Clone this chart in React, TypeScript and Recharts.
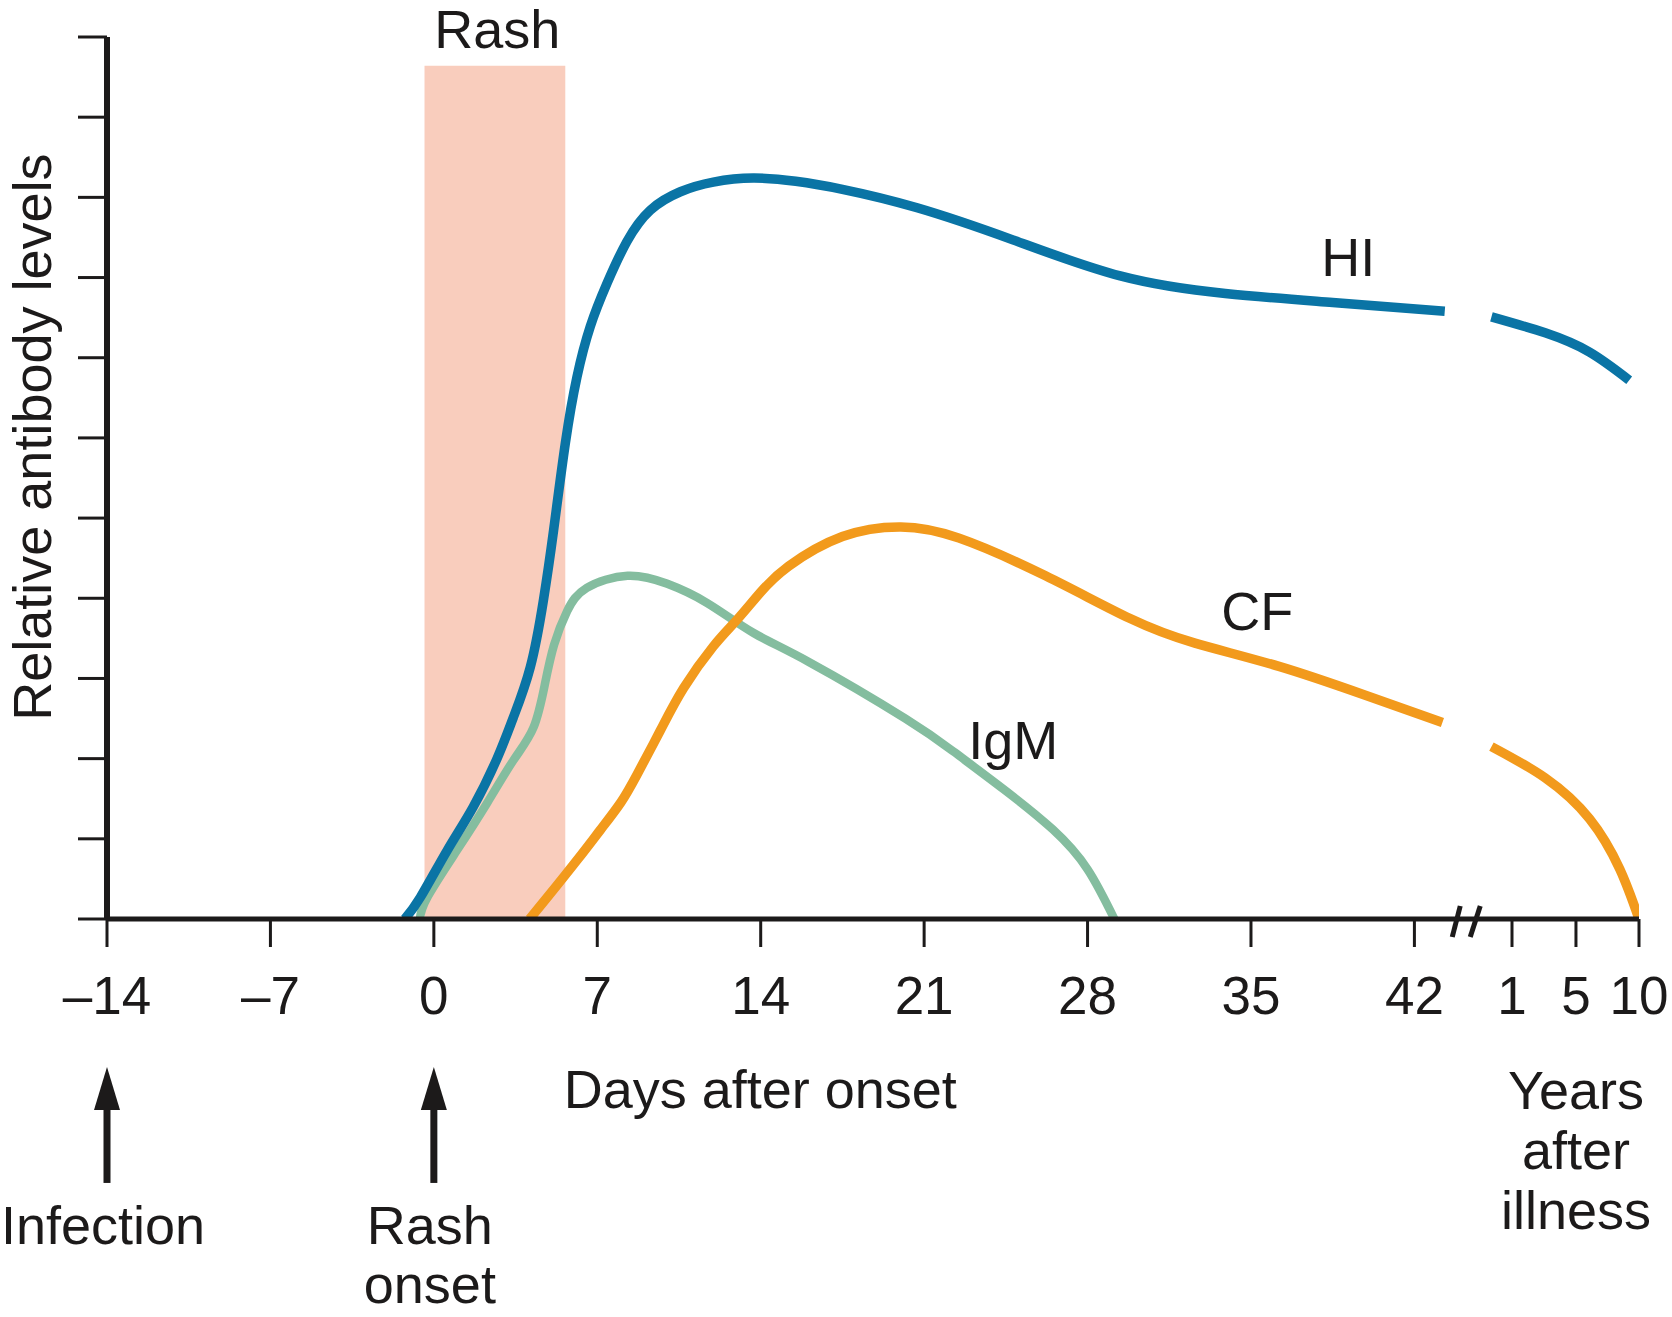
import React from 'react';
import { LineChart, Line, XAxis, YAxis, ReferenceArea, ReferenceDot } from 'recharts';

const FONT = '"Liberation Sans", Arial, Helvetica, sans-serif';
const INK = '#1c1a1a';

// x positions: days after onset; the years part sits after the axis break
const xTickValues = [-14, -7, 0, 7, 14, 21, 28, 35, 42, 46.18, 48.92, 51.62];
const xTickLabels = ['–14', '–7', '0', '7', '14', '21', '28', '35', '42', '1', '5', '10'];
const yTickValues = [0, 1, 2, 3, 4, 5, 6, 7, 8, 9, 10, 11];

const hiEarly = [
  { x: -1.25, y: 0 }, { x: -0.58, y: 0.27 }, { x: 0.58, y: 0.86 }, { x: 1.69, y: 1.4 },
  { x: 2.72, y: 2.01 }, { x: 3.4, y: 2.51 }, { x: 4.13, y: 3.14 }, { x: 4.69, y: 3.97 },
  { x: 5.13, y: 4.85 }, { x: 5.63, y: 5.93 }, { x: 6.13, y: 6.76 }, { x: 6.7, y: 7.39 },
  { x: 7.42, y: 7.93 }, { x: 8.27, y: 8.45 }, { x: 9.27, y: 8.84 }, { x: 10.56, y: 9.07 },
  { x: 11.97, y: 9.19 }, { x: 13.68, y: 9.24 }, { x: 15.5, y: 9.2 }, { x: 17.5, y: 9.1 },
  { x: 20.7, y: 8.87 }, { x: 24.8, y: 8.47 }, { x: 29.4, y: 8.02 }, { x: 33.9, y: 7.8 },
  { x: 38.5, y: 7.69 }, { x: 43.3, y: 7.58 },
];
const hiLate = [
  { x: 45.3, y: 7.51 }, { x: 47.6, y: 7.31 }, { x: 49.5, y: 7.07 }, { x: 51.2, y: 6.72 },
];
const igm = [
  { x: -0.6, y: 0 }, { x: -0.28, y: 0.27 }, { x: 1.0, y: 0.86 }, { x: 2.29, y: 1.45 },
  { x: 3.41, y: 1.98 }, { x: 4.27, y: 2.39 }, { x: 4.75, y: 2.92 }, { x: 5.15, y: 3.42 },
  { x: 5.71, y: 3.84 }, { x: 6.55, y: 4.13 }, { x: 8.3, y: 4.28 }, { x: 10.0, y: 4.18 },
  { x: 11.71, y: 3.94 }, { x: 13.68, y: 3.57 }, { x: 16.1, y: 3.2 }, { x: 20.2, y: 2.5 },
  { x: 22.3, y: 2.08 }, { x: 24.4, y: 1.62 }, { x: 26.5, y: 1.12 }, { x: 28.0, y: 0.62 },
  { x: 29.15, y: 0 },
];
const cfEarly = [
  { x: 4.1, y: 0 }, { x: 4.86, y: 0.27 }, { x: 6.15, y: 0.74 }, { x: 7.13, y: 1.11 },
  { x: 8.0, y: 1.45 }, { x: 8.7, y: 1.8 }, { x: 9.7, y: 2.35 }, { x: 10.7, y: 2.88 },
  { x: 11.97, y: 3.4 }, { x: 12.98, y: 3.73 }, { x: 13.98, y: 4.07 }, { x: 15.2, y: 4.4 },
  { x: 17.5, y: 4.77 }, { x: 20.0, y: 4.89 }, { x: 22.5, y: 4.75 }, { x: 26.2, y: 4.28 },
  { x: 29.8, y: 3.75 }, { x: 32.6, y: 3.44 }, { x: 36.2, y: 3.15 }, { x: 39.9, y: 2.79 },
  { x: 43.2, y: 2.45 },
];
const cfLate = [
  { x: 45.3, y: 2.15 }, { x: 47.6, y: 1.76 }, { x: 49.5, y: 1.25 }, { x: 50.8, y: 0.62 },
  { x: 51.62, y: 0 },
];

const XTick = (props: any) => {
  const { x, y, payload } = props;
  const i = xTickValues.indexOf(payload.value);
  return (
    <text x={x} y={y + 67} textAnchor="middle" fontFamily={FONT} fontSize={53} fill={INK}>
      {xTickLabels[i]}
    </text>
  );
};

const EmptyTick = () => <g />;

const textShape = (lines: string[], dx = 0, lineGap = 60, anchor = 'middle') => (p: any) => (
  <g>
    {lines.map((s, i) => (
      <text key={i} x={p.cx + dx} y={p.cy + i * lineGap} textAnchor={anchor} fontFamily={FONT} fontSize={54} fill={INK}>
        {s}
      </text>
    ))}
  </g>
);

const arrowShape = (lines: string[]) => (p: any) => {
  const { cx, cy } = p;
  return (
    <g>
      <rect x={cx - 3.5} y={cy + 38} width={7} height={78} fill={INK} />
      <polygon points={`${cx},${cy} ${cx - 13},${cy + 43} ${cx + 13},${cy + 43}`} fill={INK} />
      {lines.map((s, i) => (
        <text key={i} x={cx - 4} y={cy + 177 + i * 59} textAnchor="middle" fontFamily={FONT} fontSize={54} fill={INK}>
          {s}
        </text>
      ))}
    </g>
  );
};

const breakShape = (p: any) => {
  const { cx, cy } = p;
  return (
    <g stroke={INK} strokeWidth={5}>
      <line x1={cx - 6} y1={cy - 13} x2={cx - 14} y2={cy + 18} />
      <line x1={cx + 14} y1={cy - 13} x2={cx + 4} y2={cy + 18} />
    </g>
  );
};

const yLabelShape = (p: any) => (
  <text
    x={p.cx - 56}
    y={p.cy}
    transform={`rotate(-90 ${p.cx - 56} ${p.cy})`}
    textAnchor="middle"
    fontFamily={FONT}
    fontSize={54}
    fill={INK}
  >
    Relative antibody levels
  </text>
);

export default function App() {
  return (
    <div style={{ position: 'absolute', left: 0, top: 0, width: 1672, height: 1317, background: '#fff' }}>
      <LineChart width={1672} height={1317} margin={{ top: 37, right: 33, bottom: 368, left: 47 }}>
        <ReferenceArea x1={-0.4} x2={5.63} y1={0} y2={10.64} fill="#F9CDBD" fillOpacity={1} stroke="none" ifOverflow="visible" />
        <XAxis
          type="number"
          dataKey="x"
          domain={[-14, 51.62]}
          ticks={xTickValues}
          interval={0}
          tick={<XTick />}
          tickSize={28}
          tickMargin={0}
          height={30}
          axisLine={{ stroke: INK, strokeWidth: 5 }}
          tickLine={{ stroke: INK, strokeWidth: 3 }}
          allowDataOverflow
        />
        <YAxis
          type="number"
          domain={[0, 11]}
          ticks={yTickValues}
          interval={0}
          tick={<EmptyTick />}
          tickSize={29}
          width={60}
          axisLine={{ stroke: INK, strokeWidth: 6 }}
          tickLine={{ stroke: INK, strokeWidth: 3 }}
          allowDataOverflow
        />
        <Line data={igm} dataKey="y" type="natural" stroke="#84BD9F" strokeWidth={8.5} dot={false} isAnimationActive={false} />
        <Line data={cfEarly} dataKey="y" type="natural" stroke="#F29A1C" strokeWidth={9.5} dot={false} isAnimationActive={false} />
        <Line data={cfLate} dataKey="y" type="natural" stroke="#F29A1C" strokeWidth={9.5} dot={false} isAnimationActive={false} />
        <Line data={hiEarly} dataKey="y" type="natural" stroke="#0A74A5" strokeWidth={9.5} dot={false} isAnimationActive={false} />
        <Line data={hiLate} dataKey="y" type="natural" stroke="#0A74A5" strokeWidth={9.5} dot={false} isAnimationActive={false} />
        <ReferenceDot x={44.22} y={0} ifOverflow="visible" shape={breakShape} />
        <ReferenceDot x={2.72} y={10.86} ifOverflow="visible" shape={textShape(['Rash'])} />
        <ReferenceDot x={39.17} y={8.02} ifOverflow="visible" shape={textShape(['HI'])} />
        <ReferenceDot x={35.27} y={3.6} ifOverflow="visible" shape={textShape(['CF'])} />
        <ReferenceDot x={24.82} y={1.995} ifOverflow="visible" shape={textShape(['IgM'])} />
        <ReferenceDot x={13.98} y={-2.357} ifOverflow="visible" shape={textShape(['Days after onset'])} />
        <ReferenceDot x={48.92} y={-2.37} ifOverflow="visible" shape={textShape(['Years', 'after', 'illness'], 0, 60)} />
        <ReferenceDot x={-14} y={-1.845} ifOverflow="visible" shape={arrowShape(['Infection'])} />
        <ReferenceDot x={0} y={-1.845} ifOverflow="visible" shape={arrowShape(['Rash', 'onset'])} />
        <ReferenceDot x={-14} y={6.01} ifOverflow="visible" shape={yLabelShape} />
      </LineChart>
    </div>
  );
}
